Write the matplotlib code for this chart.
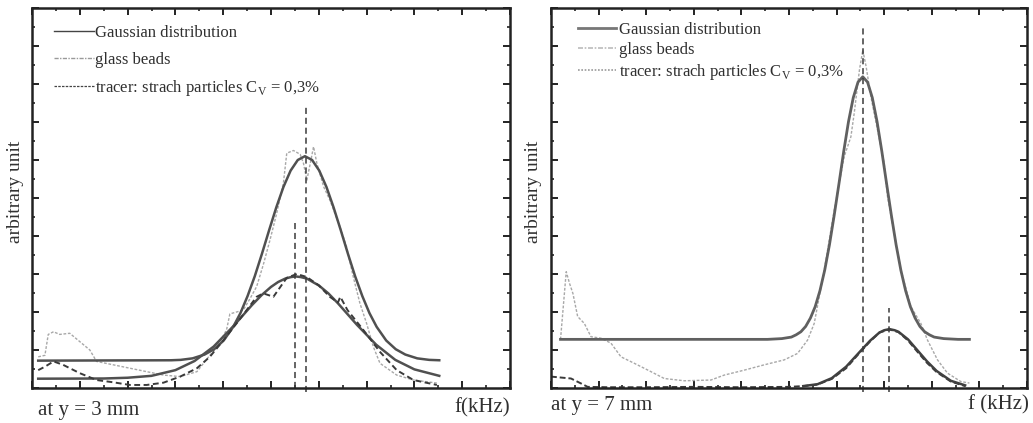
import numpy as np
import matplotlib
matplotlib.use("Agg")
import matplotlib.pyplot as plt
from matplotlib.lines import Line2D
from matplotlib.ticker import MultipleLocator

plt.rcParams['font.family'] = ['Liberation Serif', 'DejaVu Serif']
plt.rcParams['mathtext.fontset'] = 'custom'
plt.rcParams['mathtext.rm'] = 'Liberation Serif'

# ---- left panel: y = 3 mm ----
# gaussian fits (big = glass beads, small = tracer)
gA_x = [0.13, 2.91, 3.11, 3.36, 3.61, 3.81, 4.01, 4.21, 4.36, 4.51, 4.66, 4.81, 4.96, 5.11,
        5.26, 5.41, 5.56, 5.71, 5.86, 6.01, 6.16, 6.31, 6.46, 6.61, 6.76, 6.91, 7.06, 7.21,
        7.41, 7.61, 7.81, 8.06, 8.31, 8.52]
gA_y = [0.72, 0.73, 0.74, 0.78, 0.88, 1.02, 1.25, 1.61, 1.97, 2.42, 2.94, 3.53, 4.15, 4.75,
        5.29, 5.72, 6.00, 6.10, 6.00, 5.72, 5.29, 4.75, 4.15, 3.53, 2.94, 2.42, 1.97, 1.61,
        1.25, 1.02, 0.88, 0.78, 0.74, 0.73]
gB_x = [0.13, 1.5, 2.0, 2.5, 3.0, 3.4, 3.8, 4.2, 4.6, 4.8, 5.0, 5.15, 5.3, 5.42, 5.52, 5.62,
        5.75, 5.9, 6.0, 6.2, 6.4, 6.8, 7.2, 7.6, 8.0, 8.52]
gB_y = [0.245, 0.25, 0.27, 0.32, 0.47, 0.71, 1.09, 1.61, 2.18, 2.44, 2.66, 2.79, 2.88, 2.92,
        2.935, 2.92, 2.88, 2.77, 2.70, 2.49, 2.23, 1.66, 1.14, 0.74, 0.49, 0.32]
glassA_x = [0.13, 0.27, 0.34, 0.45, 0.58, 0.79, 1.0, 1.21, 1.35, 1.7, 2.05, 2.4, 2.75, 3.1,
            3.45, 3.72, 3.86, 4.07, 4.14, 4.28, 4.42, 4.56, 4.7, 4.84, 4.98, 5.12, 5.26, 5.33,
            5.47, 5.61, 5.68, 5.75, 5.82, 5.89, 5.96, 6.1, 6.23, 6.44, 6.58, 6.72, 6.86, 7.0,
            7.14, 7.28, 7.63, 7.98, 8.47]
glassA_y = [0.82, 0.86, 1.41, 1.48, 1.41, 1.44, 1.22, 1.0, 0.70, 0.61, 0.52, 0.43, 0.34, 0.30,
            0.43, 0.86, 1.05, 1.53, 1.95, 2.0, 2.05, 2.35, 2.67, 3.25, 3.9, 4.6, 5.4, 6.18,
            6.25, 6.15, 5.91, 5.47, 5.9, 6.35, 5.91, 5.30, 4.95, 4.25, 3.72, 2.93, 2.23, 1.70,
            1.09, 0.65, 0.34, 0.21, 0.13]
tracerA_x = [0.13, 0.27, 0.45, 0.65, 1.0, 1.35, 1.7, 2.05, 2.4, 2.75, 3.1, 3.45, 3.72, 4.0,
             4.28, 4.49, 4.7, 4.84, 5.05, 5.33, 5.54, 5.75, 6.0, 6.23, 6.4, 6.45, 6.6, 6.79,
             6.93, 7.28, 7.63, 7.98, 8.47]
tracerA_y = [0.47, 0.56, 0.70, 0.61, 0.39, 0.21, 0.15, 0.08, 0.08, 0.14, 0.30, 0.52, 0.82, 1.25,
             1.70, 2.05, 2.40, 2.49, 2.40, 2.90, 3.00, 2.92, 2.70, 2.40, 2.25, 2.40, 2.05, 1.75,
             1.53, 0.95, 0.47, 0.21, 0.08]
vlineA_x = [5.50, 5.73]
vlineA_top = [4.33, 7.39]
vlineA_bot = [0.0, -0.1]

# ---- right panel: y = 7 mm ----
gC_x = [0.2, 4.55, 4.85, 5.05, 5.15, 5.25, 5.35, 5.45, 5.55, 5.65, 5.75, 5.85, 5.95, 6.05,
        6.15, 6.25, 6.35, 6.45, 6.55, 6.65, 6.75, 6.85, 6.95, 7.05, 7.15, 7.25, 7.35, 7.45,
        7.55, 7.65, 7.75, 7.85, 7.95, 8.05, 8.25, 8.55, 8.79]
gC_y = [1.28, 1.28, 1.30, 1.34, 1.40, 1.48, 1.62, 1.84, 2.14, 2.56, 3.10, 3.77, 4.55, 5.38,
        6.23, 7.01, 7.64, 8.05, 8.19, 8.05, 7.64, 7.01, 6.23, 5.38, 4.55, 3.77, 3.10, 2.56,
        2.14, 1.84, 1.62, 1.48, 1.40, 1.34, 1.30, 1.28, 1.28]
gD_x = [5.3, 5.6, 5.9, 6.2, 6.5, 6.7, 6.9, 7.0, 7.11, 7.22, 7.3, 7.5, 7.7, 7.9, 8.1, 8.4, 8.7]
gD_y = [0.05, 0.10, 0.26, 0.56, 0.97, 1.24, 1.46, 1.52, 1.55, 1.52, 1.48, 1.28, 0.99, 0.70,
        0.45, 0.19, 0.07]
glassC_x = [0.2, 0.32, 0.39, 0.46, 0.56, 0.70, 0.84, 1.05, 1.26, 1.47, 1.75, 2.10, 2.38, 2.80,
            3.36, 3.64, 4.06, 4.48, 4.90, 5.18, 5.39, 5.53, 5.74, 5.95, 6.16, 6.30, 6.37, 6.48,
            6.55, 6.62, 6.72, 7.0, 7.07, 7.35, 7.56, 7.77, 7.91, 8.12, 8.33, 8.61, 8.79]
glassC_y = [1.28, 3.06, 2.75, 2.49, 1.88, 1.70, 1.35, 1.31, 1.18, 0.82, 0.65, 0.43, 0.25, 0.19,
            0.21, 0.34, 0.47, 0.61, 0.74, 0.91, 1.26, 1.70, 3.10, 4.68, 6.09, 6.61, 7.23, 8.37,
            8.89, 8.46, 7.67, 5.91, 5.03, 3.11, 2.14, 1.70, 1.26, 0.74, 0.39, 0.17, 0.13]
tracerC_x = [0.0, 0.42, 0.63, 0.77, 1.2, 2.0, 3.0, 4.0, 5.0, 5.3, 5.6, 5.9, 6.2, 6.5, 6.7,
             6.9, 7.11, 7.3, 7.5, 7.7, 7.9, 8.1, 8.4, 8.7]
tracerC_y = [0.30, 0.25, 0.12, 0.03, 0.02, 0.02, 0.03, 0.02, 0.03, 0.05, 0.09, 0.24, 0.52, 0.95,
             1.22, 1.46, 1.54, 1.47, 1.25, 0.95, 0.66, 0.42, 0.17, 0.05]
vlineC_x = [6.55, 7.11]
vlineC_top = [9.47, 2.10]
vlineC_bot = [-0.1, -0.1]

tracer_label = r"tracer: strach particles C$_\mathregular{V}$ = 0,3%"
labels = ["Gaussian distribution", "glass beads", tracer_label]

fig = plt.figure(figsize=(10.33, 4.23), dpi=100)
axL = fig.add_axes([32/1033, 35/423, 478/1033, 380/423])
axR = fig.add_axes([551/1033, 35/423, 476/1033, 380/423])

txt = '#303030'
for ax in (axL, axR):
    ax.set_xlim(0, 10)
    ax.set_ylim(0, 10)
    ax.xaxis.set_major_locator(MultipleLocator(1))
    ax.xaxis.set_minor_locator(MultipleLocator(0.5))
    ax.yaxis.set_major_locator(MultipleLocator(1))
    ax.yaxis.set_minor_locator(MultipleLocator(0.5))
    ax.tick_params(which='both', direction='in', top=True, right=True,
                   labelbottom=False, labelleft=False, color='#222')
    ax.tick_params(which='major', length=5, width=1.4)
    ax.tick_params(which='minor', length=2.5, width=1.2)
    for s in ax.spines.values():
        s.set_linewidth(1.8)
        s.set_color('#222')
    ax.set_ylabel("arbitrary unit", fontsize=14, color=txt)

axL.yaxis.set_label_coords(-0.016, 0.515)
axR.yaxis.set_label_coords(-0.018, 0.515)

# left
axL.plot(glassA_x, glassA_y, color='#a8a8a8', lw=1.0, ls=(0, (2, 1.2)))
axL.plot(gA_x, gA_y, color='#505050', lw=1.8)
axL.plot(gB_x, gB_y, color='#505050', lw=1.8)
axL.plot(tracerA_x, tracerA_y, color='#3a3a3a', lw=1.4, ls=(0, (3, 1.8)))
for xv, yt, yb in zip(vlineA_x, vlineA_top, vlineA_bot):
    axL.plot([xv, xv], [yb, yt], color='#3a3a3a', lw=1.1, ls=(0, (4, 2.5)), clip_on=False)

hL = [Line2D([], [], color='#444', lw=1.0),
      Line2D([], [], color='#999', lw=1.0, ls=(0, (3, 1, 1, 1))),
      Line2D([], [], color='#444', lw=0.9, ls=(0, (2, 1)))]
axL.legend(hL, labels, loc='upper left', bbox_to_anchor=(0.033, 0.972), frameon=False,
           fontsize=12, handlelength=2.4, handletextpad=0.05, labelspacing=0.62,
           labelcolor=txt, borderaxespad=0)

axL.text(0.012, -0.058, "at y = 3 mm", transform=axL.transAxes, fontsize=15,
         color=txt, va='center', ha='left')
axL.text(1.0, -0.052, "f(kHz)", transform=axL.transAxes, fontsize=15,
         color=txt, va='center', ha='right')

# right
axR.plot(glassC_x, glassC_y, color='#a8a8a8', lw=1.0, ls=(0, (2, 1.2)))
axR.plot(gC_x, gC_y, color='#606060', lw=2.0)
axR.plot(tracerC_x, tracerC_y, color='#3a3a3a', lw=1.4, ls=(0, (3, 1.5)))
axR.plot(gD_x, gD_y, color='#404040', lw=1.8)
for xv, yt, yb in zip(vlineC_x, vlineC_top, vlineC_bot):
    axR.plot([xv, xv], [yb, yt], color='#3a3a3a', lw=1.1, ls=(0, (4, 2.5)), clip_on=False)

hR = [Line2D([], [], color='#777', lw=2.0),
      Line2D([], [], color='#bbb', lw=1.2, ls=(0, (3, 1, 1, 1))),
      Line2D([], [], color='#999', lw=1.2, ls=(0, (1, 1)))]
axR.legend(hR, labels, loc='upper left', bbox_to_anchor=(0.043, 0.982), frameon=False,
           fontsize=12, handlelength=2.3, handletextpad=0.15, labelspacing=0.24,
           labelcolor=txt, borderaxespad=0)

axR.text(0.0, -0.045, "at y = 7 mm", transform=axR.transAxes, fontsize=15,
         color=txt, va='center', ha='left')
axR.text(1.003, -0.045, "f (kHz)", transform=axR.transAxes, fontsize=15,
         color=txt, va='center', ha='right')

fig.savefig("out.png", dpi=100)
